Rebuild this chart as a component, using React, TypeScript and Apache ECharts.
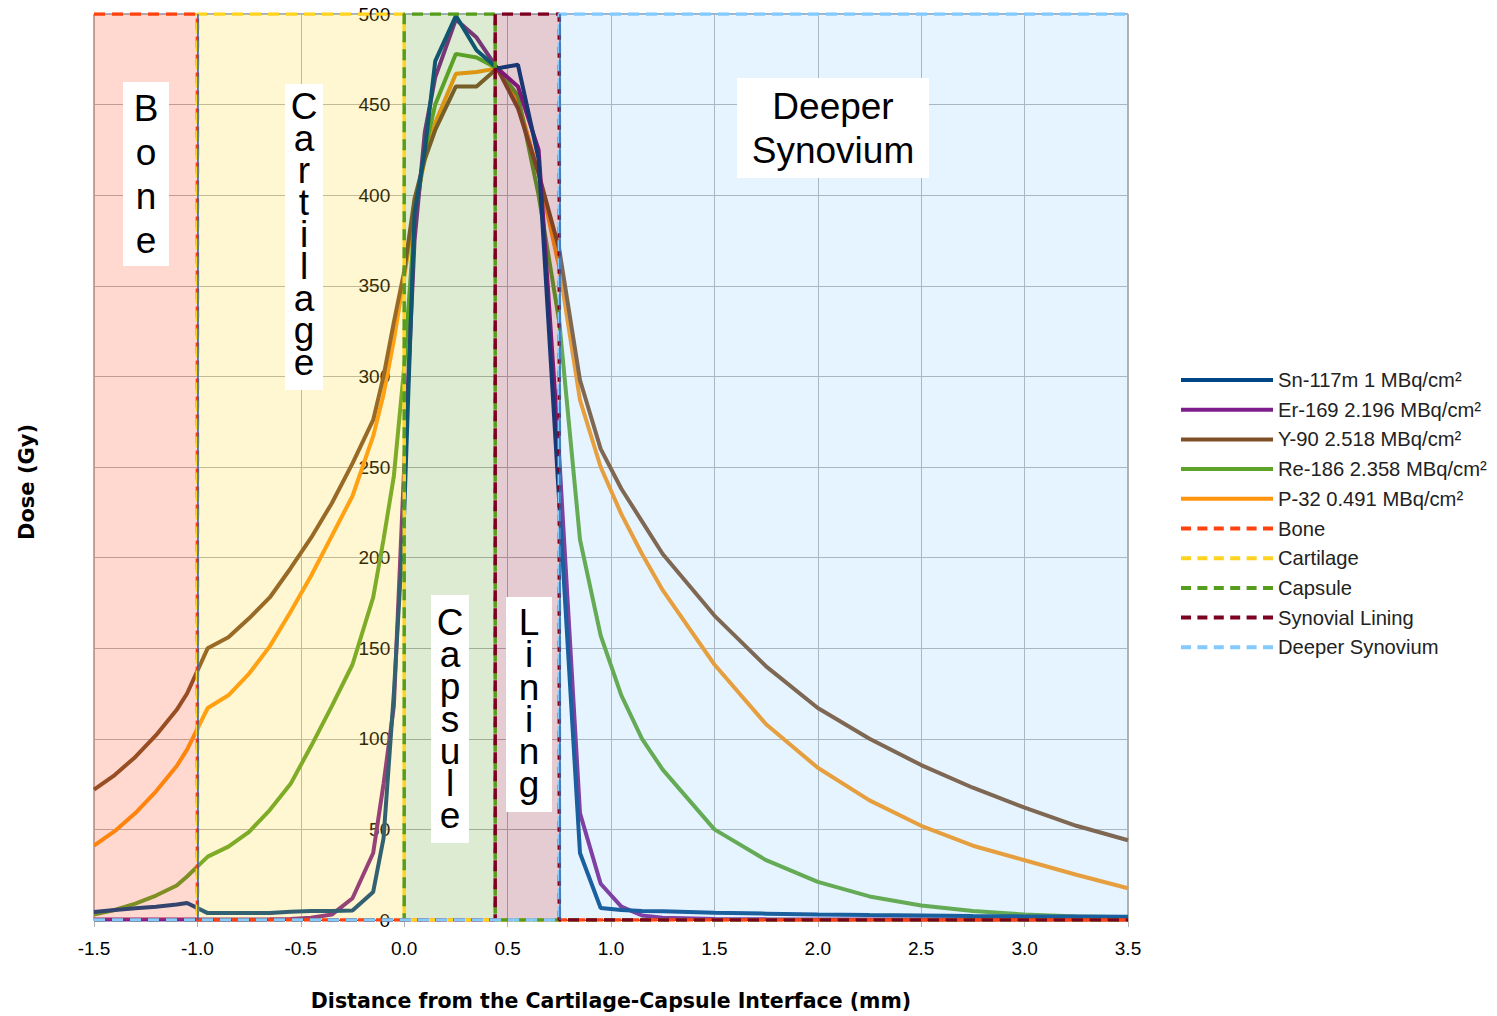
import React, { useEffect, useRef } from "react";
import * as echarts from "echarts";

// ---------- data ----------
const X = [-1.5, -1.4, -1.3, -1.2, -1.1, -1.05, -0.95, -0.85, -0.75, -0.65, -0.55, -0.45, -0.35, -0.25, -0.15, -0.1, -0.05, 0, 0.05, 0.1, 0.15, 0.25, 0.35, 0.45, 0.55, 0.65, 0.75, 0.85, 0.95, 1.05, 1.15, 1.25, 1.5, 1.75, 2.0, 2.25, 2.5, 2.75, 3.0, 3.25, 3.5];

const SN117M = [4.4, 5.5, 6.5, 7.3, 8.5, 9.4, 3.8, 3.8, 3.8, 3.9, 4.5, 5, 5, 5.2, 15.5, 45, 125, 225, 390, 425, 474, 499, 480, 470, 472, 420, 230, 37, 6.6, 5.5, 5, 4.8, 4, 3.5, 3, 2.7, 2.5, 2.2, 2, 1.9, 1.8];
const ER169 = [0.3, 0.3, 0.3, 0.3, 0.3, 0.3, 0.3, 0.3, 0.3, 0.4, 0.6, 1.2, 3, 12, 37, 75, 118, 250, 375, 435, 465, 497, 487, 470, 460, 425, 255, 59, 20, 7.4, 2.5, 1.2, 0.6, 0.4, 0.3, 0.3, 0.3, 0.3, 0.3, 0.3, 0.3];
const Y90 = [72, 80, 90, 102, 116, 125, 150, 156, 166.5, 178, 194, 211, 230, 252, 276, 300, 330, 358, 398, 420, 436, 460, 460, 470, 448, 412, 370, 298, 260, 238, 220, 202, 168, 140, 117, 100, 85.5, 73, 62, 52, 44];
const RE186 = [3, 5.5, 9, 13.5, 19, 24, 35, 40.5, 48.7, 60.7, 75, 96, 118, 141, 178, 210, 245, 305, 385, 425, 450, 478, 476, 470, 455, 400, 330, 210, 157, 124, 100, 83, 50, 33, 21, 13, 8, 5, 3, 2, 1.5];
const P32 = [41, 49, 59, 71, 85, 94, 117, 124, 136, 151, 170, 190, 212, 234, 267, 290, 320, 355, 392, 420, 440, 467, 468, 470, 452, 412, 360, 287, 250, 224, 202, 182, 141, 108, 84, 66, 52, 41, 33, 25, 17.5];

const CURVES = [SN117M, ER169, Y90, RE186, P32];
const CURVE_NAMES = ["Sn-117m 1 MBq/cm²", "Er-169 2.196 MBq/cm²", "Y-90 2.518 MBq/cm²", "Re-186 2.358 MBq/cm²", "P-32 0.491 MBq/cm²"];
const CURVE_COLORS = ["#004586", "#7e1e8c", "#7f5028", "#5ea32a", "#ff950e"];

const REGION_NAMES = ["Bone", "Cartilage", "Capsule", "Synovial Lining", "Deeper Synovium"];
const REGION_BOUNDS = [[-1.5, -1.0], [-1.0, 0], [0, 0.44], [0.44, 0.75], [0.75, 3.5]];
const REGION_COLORS = ["#ff420e", "#ffd320", "#579d1c", "#7e0021", "#83caff"];
const SOLID_BOUNDARIES = [-1.0, 0.75];

const X_MIN = -1.5, X_MAX = 3.5, X_STEP = 0.5;
const Y_MIN = 0, Y_MAX = 500, Y_STEP = 50;

// ---------- layout ----------
const GRID = { left: 94, right: 369, top: 14, bottom: 96 };
const CHART_W = 1497, CHART_H = 1016;
const PLOT_W = CHART_W - GRID.left - GRID.right;

// ---------- annotation boxes ----------
const LABELS = [
  { text: "B\no\nn\ne", cx: 146, top: 82, w: 46, h: 184, lh: 44, ty: 86 },
  { text: "C\na\nr\nt\ni\nl\na\ng\ne", cx: 304, top: 84, w: 38, h: 306, lh: 32, ty: 90 },
  { text: "C\na\np\ns\nu\nl\ne", cx: 450, top: 595, w: 38, h: 248, lh: 32.3, ty: 606 },
  { text: "L\ni\nn\ni\nn\ng", cx: 529, top: 597, w: 46, h: 215, lh: 32.4, ty: 606 },
  { text: "Deeper\nSynovium", cx: 833, top: 78, w: 192, h: 100, lh: 44, ty: 84 },
];

const FONT = '"Liberation Sans", Arial, sans-serif';
const BOLD_FONT = '"DejaVu Sans", sans-serif';

function hexA(hex: string, a: number) {
  const r = parseInt(hex.slice(1, 3), 16), g = parseInt(hex.slice(3, 5), 16), b = parseInt(hex.slice(5, 7), 16);
  return `rgba(${r},${g},${b},${a})`;
}

function regionData(a: number, b: number) {
  const pts: number[][] = [];
  if (a > X_MIN) pts.push([X_MIN, Y_MIN], [a, Y_MIN]);
  pts.push([a, Y_MAX], [b, Y_MAX]);
  if (b < X_MAX) pts.push([b, Y_MIN], [X_MAX, Y_MIN]);
  return pts;
}

// legend icons: a solid bar and a dashed bar, 92 x 4
const ICON_W = 92, ICON_H = 4;
const SOLID_ICON = `path://M0,0h${ICON_W}v${ICON_H}h-${ICON_W}z`;
const DASHED_ICON = (() => {
  const n = 6, dash = 10;
  const period = (ICON_W - dash) / (n - 1);
  let d = "";
  for (let i = 0; i < n; i++) {
    const x0 = +(i * period).toFixed(2);
    d += `M${x0},0h${dash}v${ICON_H}h-${dash}z`;
  }
  return "path://" + d;
})();

export default function App() {
  const ref = useRef<HTMLDivElement>(null);
  useEffect(() => {
    const chart = echarts.init(ref.current!, null, { renderer: "svg" });

    const curveSeries = CURVES.map((vals, i) => ({
      name: CURVE_NAMES[i],
      type: "line",
      symbol: "none",
      z: 7 - i,
      data: X.map((x, j) => [x, vals[j]]),
      lineStyle: { color: CURVE_COLORS[i], width: 4 },
      itemStyle: { color: CURVE_COLORS[i] },
    }));

    const regionSeries = REGION_BOUNDS.map(([a, b], i) => {
      const s: any = {
        name: REGION_NAMES[i],
        type: "line",
        symbol: "none",
        z: 8,
        data: regionData(a, b),
        lineStyle: { color: REGION_COLORS[i], width: 3.5, type: [11, 7] },
        itemStyle: { color: REGION_COLORS[i] },
        areaStyle: { color: hexA(REGION_COLORS[i], 0.2), opacity: 1 },
      };
      if (i === REGION_BOUNDS.length - 1) {
        s.markLine = {
          silent: true,
          z: 9,
          symbol: ["none", "none"],
          label: { show: false },
          lineStyle: { color: "#3465a4", type: "solid", width: 1.5 },
          data: SOLID_BOUNDARIES.map((x) => ({ xAxis: x })),
        };
      }
      return s;
    });

    const graphics: any[] = [];
    LABELS.forEach((l) => {
      graphics.push({
        type: "rect",
        shape: { x: l.cx - l.w / 2, y: l.top, width: l.w, height: l.h },
        style: { fill: "#ffffff" },
        z: 100,
      });
      graphics.push({
        type: "text",
        x: l.cx,
        y: l.ty,
        z: 101,
        style: {
          text: l.text,
          font: `37px ${FONT}`,
          fill: "#000",
          align: "center",
          verticalAlign: "top",
          lineHeight: l.lh,
        },
      });
    });
    graphics.push({
      type: "text",
      x: 27,
      y: 482,
      rotation: Math.PI / 2,
      style: {
        text: "Dose (Gy)",
        font: `bold 21px ${BOLD_FONT}`,
        fill: "#000",
        align: "center",
        verticalAlign: "middle",
      },
    });

    // y axis crosses the x axis at x = 0
    const yAxisOffset = -((0 - X_MIN) / (X_MAX - X_MIN)) * PLOT_W;

    chart.setOption({
      animation: false,
      backgroundColor: "#ffffff",
      grid: { ...GRID, show: true, borderColor: "#3465a4", borderWidth: 1, backgroundColor: "transparent" },
      legend: {
        orient: "vertical",
        left: 1176,
        top: 365,
        itemWidth: ICON_W,
        itemHeight: 14,
        itemGap: 9.7,
        data: [
          ...CURVE_NAMES.map((n) => ({ name: n, icon: SOLID_ICON })),
          ...REGION_NAMES.map((n) => ({ name: n, icon: DASHED_ICON })),
        ],
        textStyle: { fontSize: 20.2, color: "#222", fontFamily: FONT },
      },
      xAxis: {
        type: "value",
        min: X_MIN,
        max: X_MAX,
        interval: X_STEP,
        axisLine: { show: true, onZero: false, lineStyle: { color: "#3465a4", width: 1 } },
        axisTick: { show: true, length: 7, lineStyle: { color: "#b3b3b3" } },
        axisLabel: { formatter: (v: number) => v.toFixed(1), fontSize: 19, color: "#000", margin: 19, fontFamily: FONT },
        splitLine: { show: true, lineStyle: { color: "#b3b3b3", width: 1 } },
        name: "Distance from the Cartilage-Capsule Interface (mm)",
        nameLocation: "middle",
        nameGap: 70,
        nameTextStyle: { fontSize: 20.5, fontWeight: "bold", color: "#000", fontFamily: BOLD_FONT },
      },
      yAxis: {
        type: "value",
        position: "left",
        offset: yAxisOffset,
        min: Y_MIN,
        max: Y_MAX,
        interval: Y_STEP,
        axisLine: { show: true, onZero: false, lineStyle: { color: "#3465a4", width: 1 } },
        axisTick: { show: false },
        axisLabel: { fontSize: 19, color: "#000", margin: 14, fontFamily: FONT },
        splitLine: { show: true, lineStyle: { color: "#b3b3b3", width: 1 } },
      },
      series: [...curveSeries, ...regionSeries],
      graphic: graphics,
    });
    return () => chart.dispose();
  }, []);
  return (
    <div
      ref={ref}
      style={{ position: "fixed", left: 0, top: 0, width: CHART_W, height: CHART_H, background: "#fff" }}
    />
  );
}
